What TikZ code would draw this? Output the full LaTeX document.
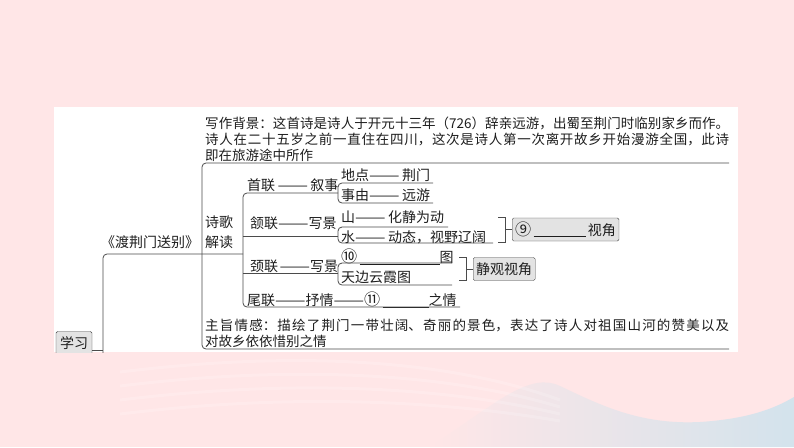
\documentclass[tikz,border=0pt]{standalone}
\usepackage{fontspec}
\usepackage{graphicx}
\setmainfont{Noto Sans CJK SC}
\XeTeXlinebreaklocale "zh"
\XeTeXlinebreakskip=0pt plus 1pt
\definecolor{bgpink}{HTML}{FFE6E7}
\definecolor{waveblue}{HTML}{D3E3EC}
\definecolor{boxgray}{HTML}{E3E3E3}
\definecolor{ink}{HTML}{1E1E1E}
\newcommand\ldash{\scalebox{1.3}[1]{——}}
\newcommand\cnum[1]{\raisebox{-0.3pt}{\scalebox{1.15}{#1}}}
\begin{document}
\begin{tikzpicture}[x=1pt,y=-1pt,
  txt/.style={anchor=west, inner sep=0pt, text=ink, font=\fontsize{14}{16}\selectfont},
  para/.style={txt, text width=524pt, align=justify, font=\fontsize{13.5}{16}\selectfont},
  gbox/.style={draw=ink!85, fill=boxgray, rounded corners=1.5pt, inner xsep=3pt, inner ysep=0pt,
    minimum height=23pt, text=ink, font=\fontsize{14}{16}\selectfont},
  br/.style={draw=ink!80, line width=0.8pt, rounded corners=4pt}]

% page background with the wave in the corner
\fill[bgpink] (0,0) rectangle (794,447);
\shade[left color=bgpink, right color=waveblue] (430,447) .. controls (500,400) and (530,372) .. (560,386)
  .. controls (600,405) and (640,425) .. (700,422) .. controls (745,419) and (772,410) .. (794,397)
  -- (794,447) -- cycle;
\foreach \dy in {0,14,28,42}
  \draw[white, opacity=0.18, line width=3pt] (120,372+\dy) .. controls (300,350+\dy) and (450,360+\dy) .. (560,400+\dy/2);

% white panel
\fill[white] (54,107) rectangle (738,352);

\begin{scope}
\clip (54,107) rectangle (738,352);

% nodes
\node[gbox, minimum width=36pt] (xuexi) at (74,343) {学习};
\node[txt, anchor=center] (poem) at (150,242) {《渡荆门送别》};
\node[para] (bg) at (205,139)
  {写作背景：这首诗是诗人于开元十三年（726）辞亲远游，出蜀至荆门时临别家乡而作。\linebreak
   诗人在二十五岁之前一直住在四川，这次是诗人第一次离开故乡开始漫游全国，此诗\linebreak
   即在旅游途中所作};
\node[txt, align=left, font=\fontsize{14}{20}\selectfont] (jiedu) at (205,232) {诗歌\\解读};
\node[para] (theme) at (205,333)
  {主旨情感：描绘了荆门一带壮阔、奇丽的景色，表达了诗人对祖国山河的赞美以及\linebreak
   对故乡依依惜别之情};

\node[txt] (shoulian) at (247,185) {首联\,\ldash\,叙事};
\node[txt] (hanlian) at (250,223) {颔联\ldash 写景};
\node[txt] (jinglian) at (250,266) {颈联\kern1.5pt\ldash 写景};
\node[txt] (weilian) at (247,300) {尾联\ldash 抒情\ldash\cnum{⑪}\,\underline{\hspace{46pt}}之情};

\node[txt] (didian) at (341,175) {地点\ldash\,荆门};
\node[txt] (shiyou) at (341,195) {事由\ldash\,远游};
\node[txt] (shan) at (341,217) {山\ldash\,化静为动};
\node[txt] (shui) at (341,237) {水\ldash\,动态，视野辽阔};
\node[txt] (tu10) at (341,257) {\cnum{⑩}\,\underline{\hspace{80pt}}图};
\node[txt] (tianbian) at (341,277) {天边云霞图};

\node[gbox, anchor=west] (view9) at (512,229.5) {\cnum{⑨}\,\underline{\hspace{52pt}}\,视角};
\node[gbox, anchor=west] (jingguan) at (473,269) {静观视角};

% level 1
\draw[br] (xuexi.east |- 0,350) -- (103,350);
\draw[br] (103,360) -- (103,254) -- (243,254);

% level 2
\draw[br] (729,163) -- (202,163) -- (202,349) -- (729,349);

% level 3
\draw[br] (338,193) -- (243,193) -- (243,307) -- (460,307);
\draw[br] (243,236) -- (338,236);
\draw[br] (243,273) -- (338,273);

% level 4
\draw[br] (433,183) -- (338,183) -- (338,203) -- (433,203);
\draw[br] (448,227) -- (338,227) -- (338,243) -- (493,243);
\draw[br] (452,263) -- (338,263) -- (338,285) -- (452,285);

% right brackets to the boxes
\draw[br, rounded corners=0pt] (498,217) -- (505,217) -- (505,242) -- (498,242);
\draw[br] (505,229.5) -- (view9.west);
\draw[br, rounded corners=0pt] (459,257) -- (466,257) -- (466,280) -- (459,280);
\draw[br] (466,269) -- (jingguan.west);
\end{scope}

\end{tikzpicture}
\end{document}
